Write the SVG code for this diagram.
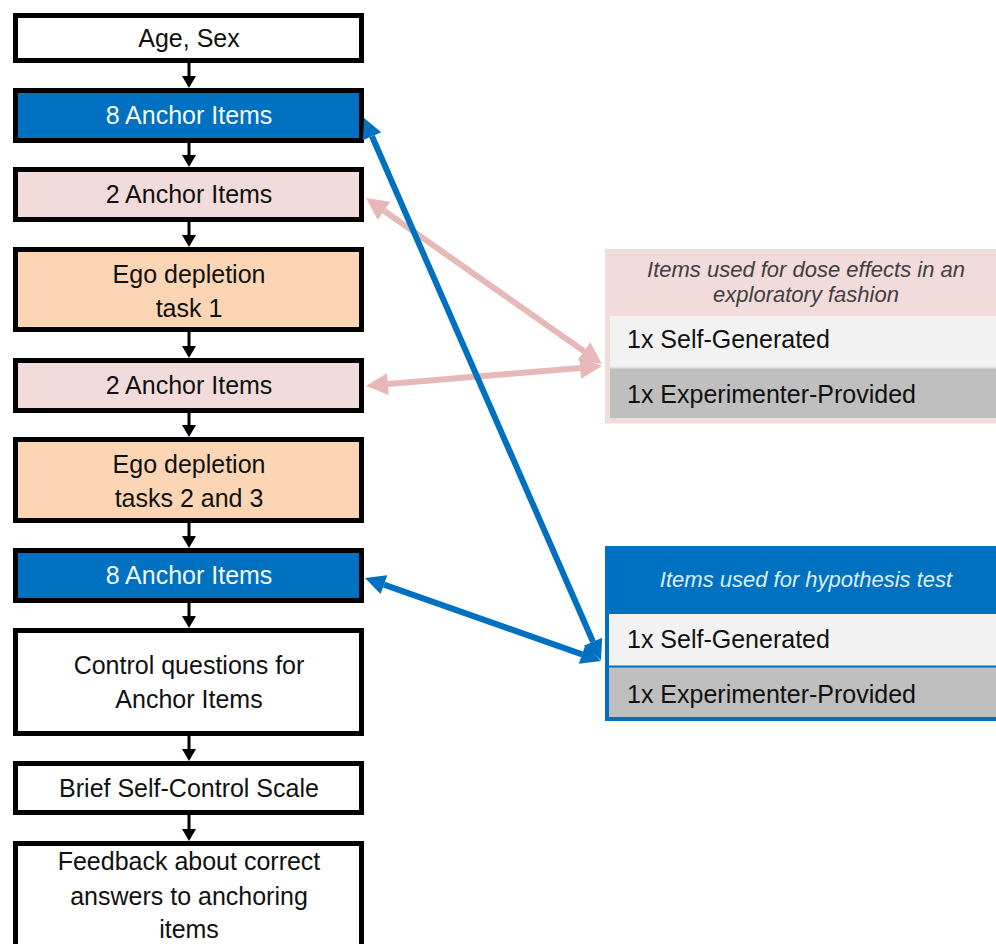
<svg xmlns="http://www.w3.org/2000/svg" width="996" height="944" viewBox="0 0 996 944">
  <style>
    .step { stroke: #000; stroke-width: 5; }
    .white { fill: #ffffff; }
    .blue { fill: #0070c0; }
    .pink { fill: #f2dcdb; }
    .tan { fill: #fcd5b4; }
    .lbl { font-family: "Liberation Sans", Arial, sans-serif; font-size: 25px; fill: #111; text-anchor: middle; }
    .lbl.inv { fill: #f4f9ff; }
    .row { font-family: "Liberation Sans", Arial, sans-serif; font-size: 25px; fill: #111; }
    .hdr { font-family: "Liberation Sans", Arial, sans-serif; font-size: 22px; font-style: italic; text-anchor: middle; }
    .flow { stroke: #000; stroke-width: 3; fill: none; }
    .link-blue { stroke: #0070c0; stroke-width: 6; fill: none; }
    .link-pink { stroke: #e6b9b8; stroke-width: 6; fill: none; }
  </style>
  <defs>
    <marker id="headBlack" markerUnits="userSpaceOnUse" viewBox="0 -7 12 14" markerWidth="12" markerHeight="14" refX="0" refY="0" orient="auto" overflow="visible">
      <path d="M0,-7 L12,0 L0,7 z" fill="#000"/>
    </marker>
    <marker id="headBlue" markerUnits="userSpaceOnUse" viewBox="0 -10 20 20" markerWidth="20" markerHeight="20" refX="0" refY="0" orient="auto-start-reverse" overflow="visible">
      <path d="M0,-10 L20,0 L0,10 z" fill="#0070c0"/>
    </marker>
    <marker id="headPink" markerUnits="userSpaceOnUse" viewBox="0 -11 22 22" markerWidth="22" markerHeight="22" refX="0" refY="0" orient="auto-start-reverse" overflow="visible">
      <path d="M0,-11 L22,0 L0,11 z" fill="#e6b9b8"/>
    </marker>
  </defs>

  <rect width="996" height="944" fill="#ffffff"/>

  <!-- Flow of steps -->
  <g id="age-sex">
    <rect class="step white" x="15.5" y="15.5" width="346" height="45"/>
    <text class="lbl" x="189" y="47">Age, Sex</text>
  </g>
  <g id="anchor8-first">
    <rect class="step blue" x="15.5" y="90.5" width="346" height="50"/>
    <text class="lbl inv" x="189" y="124">8 Anchor Items</text>
  </g>
  <g id="anchor2-first">
    <rect class="step pink" x="15.5" y="169.5" width="346" height="50"/>
    <text class="lbl" x="189" y="203">2 Anchor Items</text>
  </g>
  <g id="ego-task1">
    <rect class="step tan" x="15.5" y="249.5" width="346" height="80"/>
    <text class="lbl" x="189" y="283">Ego depletion</text>
    <text class="lbl" x="189" y="317">task 1</text>
  </g>
  <g id="anchor2-second">
    <rect class="step pink" x="15.5" y="360.5" width="346" height="50"/>
    <text class="lbl" x="189" y="394">2 Anchor Items</text>
  </g>
  <g id="ego-task23">
    <rect class="step tan" x="15.5" y="439.5" width="346" height="81"/>
    <text class="lbl" x="189" y="473">Ego depletion</text>
    <text class="lbl" x="189" y="507">tasks 2 and 3</text>
  </g>
  <g id="anchor8-second">
    <rect class="step blue" x="15.5" y="550.5" width="346" height="50"/>
    <text class="lbl inv" x="189" y="584">8 Anchor Items</text>
  </g>
  <g id="control-questions">
    <rect class="step white" x="15.5" y="630.5" width="346" height="103"/>
    <text class="lbl" x="189" y="674">Control questions for</text>
    <text class="lbl" x="189" y="708">Anchor Items</text>
  </g>
  <g id="self-control-scale">
    <rect class="step white" x="15.5" y="763.5" width="346" height="49"/>
    <text class="lbl" x="189" y="797">Brief Self-Control Scale</text>
  </g>
  <g id="feedback">
    <rect class="step white" x="15.5" y="843.5" width="346" height="120"/>
    <text class="lbl" x="189" y="870">Feedback about correct</text>
    <text class="lbl" x="189" y="905">answers to anchoring</text>
    <text class="lbl" x="189" y="938">items</text>
  </g>

  <!-- Item panels -->
  <g id="panel-dose">
    <rect x="607.5" y="251.5" width="400" height="169.5" fill="#f2dcdb" stroke="#f2dcdb" stroke-width="5"/>
    <rect x="610" y="316" width="400" height="51" fill="#f2f2f2"/>
    <rect x="610" y="368" width="400" height="50" fill="#bfbfbf"/>
    <line x1="610" y1="367.5" x2="1000" y2="367.5" stroke="#f2dcdb" stroke-width="2"/>
    <text class="hdr" x="806" y="277" fill="#404040">Items used for dose effects in an</text>
    <text class="hdr" x="806" y="302" fill="#404040">exploratory fashion</text>
    <text class="row" x="627" y="348">1x Self-Generated</text>
    <text class="row" x="627" y="403">1x Experimenter-Provided</text>
  </g>
  <g id="panel-hypothesis">
    <rect x="607" y="548" width="400" height="171" fill="#0070c0" stroke="#0070c0" stroke-width="4"/>
    <rect x="609" y="614" width="400" height="52" fill="#f2f2f2"/>
    <rect x="609" y="667" width="400" height="50" fill="#bfbfbf"/>
    <line x1="609" y1="666.5" x2="1000" y2="666.5" stroke="#0070c0" stroke-width="2"/>
    <text class="hdr" x="806" y="587" fill="#dbeef8">Items used for hypothesis test</text>
    <text class="row" x="627" y="648">1x Self-Generated</text>
    <text class="row" x="627" y="703">1x Experimenter-Provided</text>
  </g>

  <!-- Connectors -->
  <g id="connectors">
    <line class="flow" x1="189" y1="63" x2="189" y2="76" marker-end="url(#headBlack)"/>
    <line class="flow" x1="189" y1="143" x2="189" y2="155" marker-end="url(#headBlack)"/>
    <line class="flow" x1="189" y1="222" x2="189" y2="235" marker-end="url(#headBlack)"/>
    <line class="flow" x1="189" y1="332" x2="189" y2="346" marker-end="url(#headBlack)"/>
    <line class="flow" x1="189" y1="413" x2="189" y2="425" marker-end="url(#headBlack)"/>
    <line class="flow" x1="189" y1="523" x2="189" y2="536" marker-end="url(#headBlack)"/>
    <line class="flow" x1="189" y1="603" x2="189" y2="616" marker-end="url(#headBlack)"/>
    <line class="flow" x1="189" y1="736" x2="189" y2="749" marker-end="url(#headBlack)"/>
    <line class="flow" x1="189" y1="815" x2="189" y2="829" marker-end="url(#headBlack)"/>

    <line class="link-pink" x1="384" y1="210.7" x2="584" y2="351.3" marker-start="url(#headPink)" marker-end="url(#headPink)"/>
    <line class="link-pink" x1="387.9" y1="384.1" x2="580.1" y2="367.9" marker-start="url(#headPink)" marker-end="url(#headPink)"/>

    <line class="link-blue" x1="372" y1="136.3" x2="593" y2="641.7" marker-start="url(#headBlue)" marker-end="url(#headBlue)"/>
    <line class="link-blue" x1="383.9" y1="584.6" x2="582.1" y2="654.4" marker-start="url(#headBlue)" marker-end="url(#headBlue)"/>
  </g>
</svg>
